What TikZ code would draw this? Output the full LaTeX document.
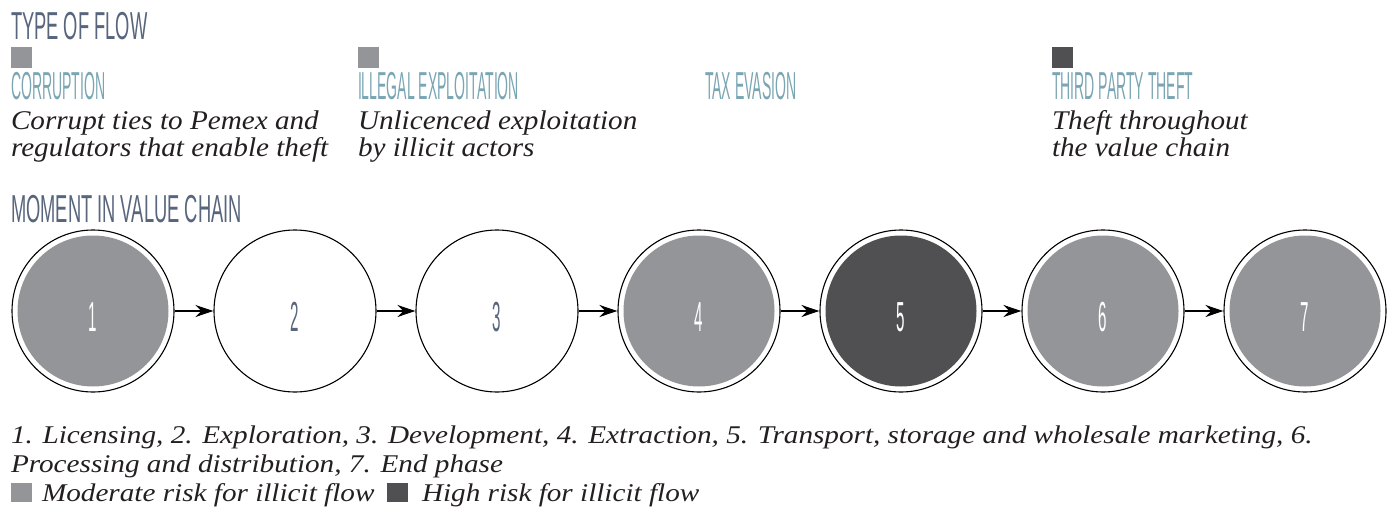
\documentclass[tikz,border=0pt]{standalone}
\usepackage{fontspec}
\usepackage{tikz}
\usetikzlibrary{arrows.meta}
\usepackage{xcolor}

\newfontfamily\headfont[FakeStretch=0.47]{Liberation Sans}
\newfontfamily\flowfont[FakeStretch=0.36]{Liberation Sans}
\newfontfamily\descfont[FakeStretch=1.08]{Liberation Serif}
\newfontfamily\notefont[FakeStretch=1.145]{Liberation Serif}

\definecolor{slate}{RGB}{88,102,125}
\definecolor{teal}{RGB}{122,166,180}
\definecolor{moderate}{RGB}{147,149,152}
\definecolor{high}{RGB}{80,80,82}
\definecolor{ink}{RGB}{35,31,32}

\tikzset{
  txt/.style={anchor=base west, inner sep=0pt, outer sep=0pt},
  head/.style={txt, text=slate, font=\headfont\fontsize{39}{39}\selectfont},
  flow/.style={txt, text=teal, font=\flowfont\fontsize{39}{39}\selectfont},
  desc/.style={txt, text=ink, align=left, font=\descfont\itshape\fontsize{27}{27}\selectfont},
  note/.style={txt, text=ink, font=\notefont\itshape\fontsize{25.5}{29}\selectfont},
  stage/.style={circle, draw=black, line width=1.1pt, minimum size=162pt, inner sep=0pt,
    text height=40pt, text depth=0pt, text=slate, font=\flowfont\fontsize{42}{42}\selectfont},
  risk/.style={text=white, path picture={\fill[#1] (path picture bounding box.center) circle (75.5pt);}},
  link/.style={-{Stealth[length=18pt,width=12pt]}, line width=1.1pt, black},
}

\begin{document}
\begin{tikzpicture}[x=1pt,y=-1pt]
\useasboundingbox (0,0) rectangle (1392,508);

% type of flow
\node [head] (typeflow) at (11,40) {TYPE OF FLOW};
\fill [moderate] (11,47) rectangle (32,68);
\fill [moderate] (358,47) rectangle (379,68);
\fill [high] (1052,47) rectangle (1073,68);
\node [flow] (corr) at (11,100) {CORRUPTION};
\node [flow] (illegal) at (358,100) {ILLEGAL EXPLOITATION};
\node [flow] (tax) at (705,100) {TAX EVASION};
\node [flow] (theft) at (1052,100) {THIRD PARTY THEFT};
% base of a two-line node is its last line
\node [desc] (corrdesc) at (11,157) {Corrupt ties to Pemex and\\regulators that enable theft};
\node [desc] (illegaldesc) at (358,157) {Unlicenced exploitation\\by illicit actors};
\node [desc] (theftdesc) at (1052,157) {Theft throughout\\the value chain};

% value chain
\node [head] (moment) at (11,222) {MOMENT IN VALUE CHAIN};
\node [stage, risk=moderate] (s1) at (93,311) {1};
\node [stage] (s2) at (295,311) {2};
\node [stage] (s3) at (497,311) {3};
\node [stage, risk=moderate] (s4) at (699,311) {4};
\node [stage, risk=high] (s5) at (901,311) {5};
\node [stage, risk=moderate] (s6) at (1103,311) {6};
\node [stage, risk=moderate] (s7) at (1305,311) {7};
\draw [link] (s1) -- (s2);
\draw [link] (s2) -- (s3);
\draw [link] (s3) -- (s4);
\draw [link] (s4) -- (s5);
\draw [link] (s5) -- (s6);
\draw [link] (s6) -- (s7);

% notes and legend
\node [note] (note1) at (11,443) {1. Licensing, 2. Exploration, 3. Development, 4. Extraction, 5. Transport, storage and wholesale marketing, 6.};
\node [note] (note2) at (11,472) {Processing and distribution, 7. End phase};
\fill [moderate] (11,483) rectangle (32,502);
\node [note] (modkey) at (42,501) {Moderate risk for illicit flow};
\fill [high] (387,483) rectangle (408,502);
\node [note] (highkey) at (422,501) {High risk for illicit flow};
\end{tikzpicture}
\end{document}
